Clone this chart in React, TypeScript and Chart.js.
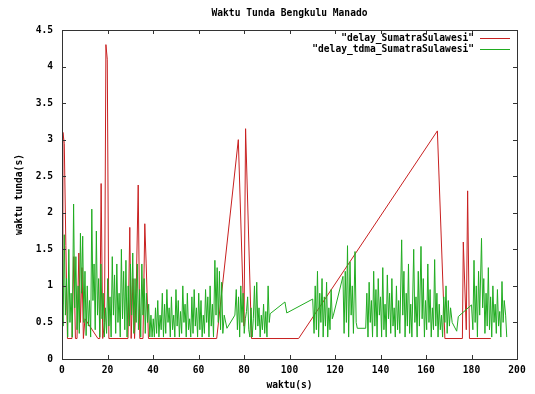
import React, { useEffect, useRef } from "react";
import { Chart, registerables } from "chart.js";

Chart.register(...registerables);

const TITLE = "Waktu Tunda Bengkulu Manado";
const X_TITLE = "waktu(s)";
const Y_TITLE = "waktu tunda(s)";
const SERIES_NAMES = ['"delay_SumatraSulawesi"', '"delay_tdma_SumatraSulawesi"'];
const X_MIN = 0, X_MAX = 200, X_STEP = 20;
const Y_MIN = 0, Y_MAX = 4.5, Y_STEP = 0.5;

// delay_SumatraSulawesi  [x, y]
const redPoints: [number, number][] = [
  [0, 0.75], [0.4, 3.1], [1.0, 2.95], [1.7, 1.55], [2.4, 0.28], [4.4, 0.28], [5.2, 1.4], [5.9, 0.28],
  [6.6, 0.28], [7.4, 1.45], [8.1, 0.5], [8.8, 1.25], [9.4, 0.28], [10.1, 0.55], [15.8, 0.28], [16.6, 0.28],
  [17.2, 2.4], [17.9, 0.28], [18.7, 0.5], [19.3, 4.3], [19.9, 4.1], [20.6, 0.28], [29.0, 0.28], [29.8, 1.8],
  [30.4, 0.28], [31.2, 1.1], [31.9, 0.28], [32.6, 0.9], [33.5, 2.38], [34.2, 0.28], [35.6, 0.28], [36.4, 1.85],
  [37.0, 1.3], [38.0, 0.28], [68.0, 0.28], [77.5, 3.0], [80.0, 0.45], [80.7, 3.15], [83.3, 0.28], [104.0, 0.28],
  [165.0, 3.12], [168.3, 0.28], [176.0, 0.28], [176.4, 1.6], [177.7, 0.4], [178.3, 2.3], [179.1, 0.28], [188.5, 0.28],
];

// delay_tdma_SumatraSulawesi  [x, y], split into stretches
const greenPart1: [number, number][] = [
  [0.0, 1.2], [0.5, 0.45], [1.0, 1.7], [1.5, 0.6], [2.0, 1.1], [2.5, 0.3], [3.0, 1.5], [3.5, 0.5],
  [4.0, 0.9], [4.5, 0.3], [5.1, 2.12], [5.6, 0.7], [6.1, 1.4], [6.6, 0.4], [7.1, 1.0], [7.6, 0.35],
  [8.1, 1.72], [8.6, 0.9], [9.1, 1.68], [9.6, 0.5], [10.1, 1.2], [10.6, 0.32], [11.1, 1.0], [11.6, 0.45],
  [12.1, 0.8], [12.6, 0.3], [13.1, 2.05], [13.6, 0.8], [14.1, 1.3], [14.6, 0.4], [15.1, 1.75], [15.6, 0.6],
  [16.1, 1.1], [16.6, 0.3], [17.1, 1.3], [17.6, 0.55], [18.1, 0.9], [18.6, 0.3], [19.1, 0.7], [19.6, 0.35],
  [20.1, 1.1], [20.6, 0.45], [21.1, 0.85], [21.6, 0.3], [22.1, 1.4], [22.6, 0.6], [23.1, 1.15], [23.6, 0.35],
  [24.1, 1.3], [24.6, 0.5], [25.1, 0.9], [25.6, 0.3], [26.1, 1.5], [26.6, 0.55], [27.1, 1.2], [27.6, 0.4],
  [28.1, 1.35], [28.6, 0.3], [29.1, 1.0], [29.6, 0.45], [30.1, 1.3], [30.6, 0.6], [31.1, 1.45], [31.6, 0.35],
  [32.1, 1.1], [32.6, 0.5], [33.1, 1.3], [33.6, 0.4], [34.1, 0.95], [34.6, 0.3], [35.1, 1.3], [35.6, 0.6],
  [36.1, 1.1], [36.6, 0.35], [37.1, 0.9], [37.6, 0.5], [38.1, 0.75], [38.6, 0.3], [39.1, 0.6], [39.6, 0.3],
];

const greenPart2: [number, number][] = [
  [40.1, 0.55], [40.6, 0.3], [41.1, 0.7], [41.6, 0.35], [42.1, 0.8], [42.6, 0.3], [43.1, 0.6], [43.6, 0.4],
  [44.1, 0.9], [44.6, 0.3], [45.1, 0.75], [45.6, 0.35], [46.1, 0.95], [46.6, 0.5], [47.1, 0.7], [47.6, 0.3],
  [48.1, 0.85], [48.6, 0.4], [49.1, 0.6], [49.6, 0.3], [50.1, 0.95], [50.6, 0.45], [51.1, 0.8], [51.6, 0.3],
  [52.1, 0.65], [52.6, 0.35], [53.1, 1.0], [53.6, 0.5], [54.1, 0.75], [54.6, 0.3], [55.1, 0.9], [55.6, 0.4],
  [56.1, 0.55], [56.6, 0.3], [57.1, 0.85], [57.6, 0.35], [58.1, 0.95], [58.6, 0.45], [59.1, 0.7], [59.6, 0.3],
  [60.1, 0.9], [60.6, 0.4], [61.1, 0.8], [61.6, 0.3], [62.1, 0.6], [62.6, 0.35], [63.1, 0.95], [63.6, 0.5],
  [64.1, 0.85], [64.6, 0.3], [65.1, 1.0], [65.6, 0.45], [66.1, 0.75], [66.6, 0.3], [67.2, 1.35], [67.7, 0.6],
  [68.2, 1.25], [68.7, 0.5], [69.2, 1.2], [69.7, 0.4], [70.2, 1.05], [70.7, 0.35], [71.3, 0.6], [72.5, 0.42],
];

const greenPart3: [number, number][] = [
  [76.0, 0.6], [76.6, 0.95], [77.1, 0.4], [77.6, 0.85], [78.1, 0.3], [78.6, 1.0], [79.1, 0.5], [79.6, 0.9],
  [80.1, 0.35], [80.6, 0.55], [81.1, 0.65], [81.6, 0.85], [82.1, 0.4], [82.6, 0.3], [83.1, 0.7], [83.6, 0.3],
  [84.1, 0.55], [84.6, 1.0], [85.1, 0.4], [85.6, 1.05], [86.1, 0.45], [86.6, 0.7], [87.1, 0.3], [87.6, 0.6],
  [88.1, 0.4], [88.6, 0.75], [89.1, 0.35], [89.6, 0.65], [90.1, 0.3], [90.6, 1.0], [91.1, 0.5], [91.5, 0.62],
  [98.0, 0.78], [98.8, 0.63], [110.2, 0.82],
];

const greenPart4: [number, number][] = [
  [110.8, 0.35], [111.3, 1.0], [111.8, 0.4], [112.3, 1.2], [112.8, 0.3], [113.3, 0.9], [113.8, 0.5], [114.3, 1.1],
  [114.8, 0.3], [115.3, 0.85], [115.8, 0.45], [116.3, 1.05], [116.8, 0.3], [117.3, 0.7], [117.8, 0.4], [118.3, 0.95],
  [118.8, 0.55], [119.3, 0.6], [123.5, 1.13], [124.0, 0.35], [124.5, 1.2], [125.0, 0.5], [125.5, 1.55], [126.0, 0.3],
  [126.6, 1.33], [127.1, 0.6], [127.6, 1.0], [128.1, 0.35], [128.8, 1.47], [129.3, 0.5], [129.8, 0.42], [133.5, 0.42],
  [134.0, 0.9], [134.5, 0.3], [135.0, 1.05], [135.5, 0.5], [136.0, 0.8], [136.5, 0.3], [137.0, 1.2], [137.5, 0.45],
  [138.0, 0.95], [138.5, 0.3], [139.0, 1.1], [139.5, 0.6], [140.0, 0.85], [140.5, 0.3], [141.0, 1.25], [141.5, 0.4],
  [142.0, 0.75], [142.5, 0.3], [143.0, 1.15], [143.5, 0.55], [144.0, 0.9], [144.5, 0.35], [145.0, 1.1], [145.5, 0.45],
  [146.0, 0.7], [146.5, 0.3], [147.0, 1.0], [147.5, 0.4], [148.0, 0.8], [148.5, 0.35], [149.3, 1.63], [149.8, 0.6],
  [150.3, 1.2], [150.8, 0.3], [151.3, 0.9], [151.8, 0.45], [152.3, 1.3], [152.8, 0.35], [153.3, 0.75], [153.8, 0.3],
  [154.6, 1.5], [155.1, 0.5], [155.6, 0.85], [156.1, 0.3], [156.6, 1.2], [157.1, 0.45], [157.8, 1.54], [158.3, 0.55],
  [158.8, 1.1], [159.3, 0.3], [159.8, 0.8], [160.3, 0.4], [160.8, 1.3], [161.3, 0.5], [161.8, 0.95], [162.3, 0.3],
  [162.8, 0.7], [163.3, 0.4], [163.8, 1.36], [164.3, 0.45], [164.8, 0.9], [165.3, 0.3], [165.8, 0.75], [166.3, 0.4],
  [166.8, 0.6], [167.3, 0.3], [167.8, 0.85], [168.3, 0.5], [168.8, 1.0], [169.3, 0.35], [169.8, 0.8], [170.3, 0.45],
  [170.8, 0.7], [171.5, 0.5], [173.5, 0.38], [174.2, 0.58], [180.0, 0.74], [180.6, 0.4], [181.1, 1.35], [181.6, 0.5],
  [182.1, 1.0], [182.6, 0.3], [183.1, 1.2], [183.6, 0.6], [184.4, 1.65], [184.9, 0.7], [185.4, 1.1], [185.9, 0.35],
  [186.4, 0.9], [186.9, 0.45], [187.4, 1.25], [187.9, 0.4], [188.4, 0.85], [188.9, 0.3], [189.4, 1.0], [189.9, 0.5],
  [190.4, 0.75], [190.9, 0.35], [191.4, 0.95], [191.9, 0.45], [192.4, 0.65], [192.9, 0.3], [193.4, 1.06], [193.9, 0.5],
  [194.4, 0.8], [195.0, 0.6], [195.5, 0.3],
];

const RED = "#c82020";
const GREEN = "#20ac20";
const FONT_FAMILY = "'DejaVu Sans Mono', 'Liberation Mono', monospace";
const FONT_SIZE = 9.6;

const toXY = (pts: [number, number][]) => pts.map(([x, y]) => ({ x, y }));

const framePlugin = {
  id: "gnuplotFrame",
  afterDraw(chart: any) {
    const { ctx, chartArea, scales } = chart;
    const { left, right, top, bottom } = chartArea;
    const xs = scales.x;
    const ys = scales.y;
    ctx.save();
    ctx.strokeStyle = "#333";
    ctx.lineWidth = 1;
    ctx.beginPath();
    const tl = 4;
    xs.ticks.forEach((t: any) => {
      const px = Math.round(xs.getPixelForValue(t.value)) + 0.5;
      ctx.moveTo(px, bottom);
      ctx.lineTo(px, bottom - tl);
      ctx.moveTo(px, top);
      ctx.lineTo(px, top + tl);
    });
    ys.ticks.forEach((t: any) => {
      const py = Math.round(ys.getPixelForValue(t.value)) + 0.5;
      ctx.moveTo(left, py);
      ctx.lineTo(left + tl, py);
      ctx.moveTo(right, py);
      ctx.lineTo(right - tl, py);
    });
    ctx.stroke();
    ctx.strokeRect(Math.round(left) + 0.5, Math.round(top) + 0.5, Math.round(right - left), Math.round(bottom - top));

    // title
    ctx.fillStyle = "#000";
    ctx.font = `bold ${FONT_SIZE}px ${FONT_FAMILY}`;
    ctx.textAlign = "center";
    ctx.textBaseline = "middle";
    ctx.fillText(TITLE, (left + right) / 2, 13);

    // legend (top-right, inside plot)
    ctx.textAlign = "right";
    chart.data.datasets.forEach((ds: any, i: number) => {
      const yy = 38 + i * 11;
      ctx.fillStyle = "#000";
      ctx.fillText(ds.label, right - 43, yy);
      ctx.strokeStyle = ds.borderColor;
      ctx.beginPath();
      ctx.moveTo(right - 37, Math.round(yy) + 0.5);
      ctx.lineTo(right - 7, Math.round(yy) + 0.5);
      ctx.stroke();
    });
    ctx.restore();
  },
};

export default function App() {
  const ref = useRef<HTMLCanvasElement | null>(null);
  useEffect(() => {
    if (!ref.current) return;
    const font = { family: FONT_FAMILY, size: FONT_SIZE, weight: "bold" as const };
    const chart = new Chart(ref.current, {
      type: "line",
      data: {
        datasets: [
          {
            label: SERIES_NAMES[0],
            data: toXY(redPoints),
            borderColor: RED,
            borderWidth: 1,
            pointRadius: 0,
            tension: 0,
            fill: false,
            order: 2,
          },
          {
            label: SERIES_NAMES[1],
            data: toXY([...greenPart1, ...greenPart2, ...greenPart3, ...greenPart4]),
            borderColor: GREEN,
            borderWidth: 1,
            pointRadius: 0,
            tension: 0,
            fill: false,
            order: 1,
          },
        ],
      },
      options: {
        animation: false,
        responsive: false,
        devicePixelRatio: 1,
        layout: { padding: { left: 0, top: 30, right: 18, bottom: 0 } },
        plugins: {
          legend: { display: false },
          title: { display: false },
          tooltip: { enabled: false },
        },
        scales: {
          x: {
            type: "linear",
            min: X_MIN,
            max: X_MAX,
            grid: { display: false, drawTicks: false },
            border: { display: false },
            ticks: { stepSize: X_STEP, color: "#000", font, padding: 6, maxRotation: 0 },
            title: { display: true, text: X_TITLE, color: "#000", font, padding: { top: 0, bottom: 3 } },
            afterFit: (s: any) => {
              s.height = 35;
            },
          },
          y: {
            type: "linear",
            min: Y_MIN,
            max: Y_MAX,
            grid: { display: false, drawTicks: false },
            border: { display: false },
            ticks: {
              stepSize: Y_STEP,
              color: "#000",
              font,
              padding: 9,
              callback: (v: any) => String(Math.round(Number(v) * 10) / 10),
            },
            title: { display: true, text: Y_TITLE, color: "#000", font, padding: { top: 14, bottom: 0 } },
            afterFit: (s: any) => {
              s.width = 62;
            },
          },
        },
      },
      plugins: [framePlugin],
    });
    return () => chart.destroy();
  }, []);
  return (
    <div style={{ position: "fixed", left: 0, top: 0, width: 535, height: 394, background: "#fff" }}>
      <canvas ref={ref} width={535} height={394} style={{ display: "block" }} />
    </div>
  );
}
